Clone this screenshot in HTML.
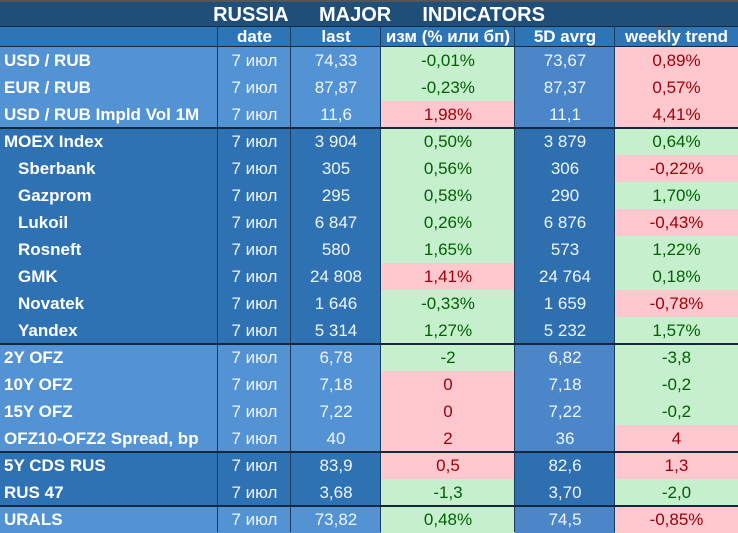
<!DOCTYPE html>
<html><head><meta charset="utf-8"><style>
body{margin:0;width:738px;height:532px;overflow:hidden;background:#2f75b5;font-family:"Liberation Sans","DejaVu Sans",sans-serif;}
#t{position:relative;width:738px;height:532px;}
.c{position:absolute;box-sizing:border-box;font-size:17px;line-height:27px;height:27px;color:#eef4fb;text-align:center;white-space:nowrap;overflow:hidden;}
.l{text-align:left;font-weight:bold;color:#fff;}
.g{background:#c6efce;color:#006100;}
.r{background:#ffc7ce;color:#9c0006;}
.vl{position:absolute;top:26px;width:1px;height:506px;background:#1d3a5c;}
.hl{position:absolute;left:0;width:738px;height:2px;background:#13283f;}
</style></head><body>
<div id="t">
<div style="position:absolute;left:0;top:0;width:738px;height:26px;background:#1f4e79;color:#fff;font-weight:bold;font-size:20px;line-height:27px;text-align:center;word-spacing:10px;padding-left:20px;box-sizing:border-box;border-top:2px solid #555">RUSSIA &nbsp;MAJOR &nbsp;INDICATORS</div>
<div style="position:absolute;left:0;top:26px;width:738px;height:21px;background:#2e75b6;border-top:1px solid #13283f;border-bottom:1px solid #13283f;box-sizing:border-box"></div>
</div>
<script>
const cols=[0,218,291,381,515,615,738];
const heads=["","date","last","изм (% или бп)","5D avrg","weekly trend"];
const labels=["USD / RUB","EUR / RUB","USD / RUB Impld Vol 1M","MOEX Index","Sberbank","Gazprom","Lukoil","Rosneft","GMK","Novatek","Yandex","2Y OFZ","10Y OFZ","15Y OFZ","OFZ10-OFZ2 Spread, bp","5Y CDS RUS","RUS 47","URALS"];
const indent=[0,0,0,0,1,1,1,1,1,1,1,0,0,0,0,0,0,0];
const lastV=["74,33","87,87","11,6","3 904","305","295","6 847","580","24 808","1 646","5 314","6,78","7,18","7,22","40","83,9","3,68","73,82"];
const chg=["-0,01%","-0,23%","1,98%","0,50%","0,56%","0,58%","0,26%","1,65%","1,41%","-0,33%","1,27%","-2","0","0","2","0,5","-1,3","0,48%"];
const chgC="ggrgggggrgg grrrrgg".replace(/ /g,"");
const avg=["73,67","87,37","11,1","3 879","306","290","6 876","573","24 764","1 659","5 232","6,82","7,18","7,22","36","82,6","3,70","74,5"];
const wk=["0,89%","0,57%","4,41%","0,64%","-0,22%","1,70%","-0,43%","1,22%","0,18%","-0,78%","1,57%","-3,8","-0,2","-0,2","4","1,3","-2,0","-0,85%"];
const wkC="rrrgrgrggrggggrrgr";
const grp=[0,0,0,1,1,1,1,1,1,1,1,0,0,0,0,1,1,0];
const T=document.getElementById('t');
function cell(x0,x1,y,txt,cls,bg,name){const d=document.createElement('div');d.className='c '+cls;d.style.left=x0+'px';d.style.width=(x1-x0)+'px';d.style.top=y+'px';if(bg)d.style.background=bg;d.textContent=txt;


T.appendChild(d);return d;}
heads.forEach((h,i)=>{if(!h)return;const d=cell(cols[i],cols[i+1],26,h,'','', 'header-'+i);d.style.height='21px';d.style.lineHeight='21px';d.style.fontWeight='bold';d.style.color='#fff';});
labels.forEach((lab,i)=>{const y=47+27*i;const light=grp[i]==0;
const bgL=light?'#5393d3':'#2f72b3',bgA=light?'#4a86c8':'#2e6fb0';
const a=cell(0,218,y,lab,'l',bgL,'row-label');a.style.paddingLeft=(indent[i]?18:4)+'px';
cell(218,291,y,'7 июл','',bgL,'date-cell');
cell(291,381,y,lastV[i],'',bgL,'last-cell');
cell(381,515,y,chg[i],chgC[i],'', 'change-cell');
cell(515,615,y,avg[i],'',bgA,'avg-cell');
cell(615,738,y,wk[i],wkC[i],'','weekly-trend-cell');});
[218,291,381,515,615].forEach(x=>{const v=document.createElement('div');v.className='vl';v.style.left=(x-1)+'px';


T.appendChild(v);});
[127,343,451,505].forEach(y=>{const h=document.createElement('div');h.className='hl';h.style.top=y+'px';


T.appendChild(h);});
</script>
</body></html>
